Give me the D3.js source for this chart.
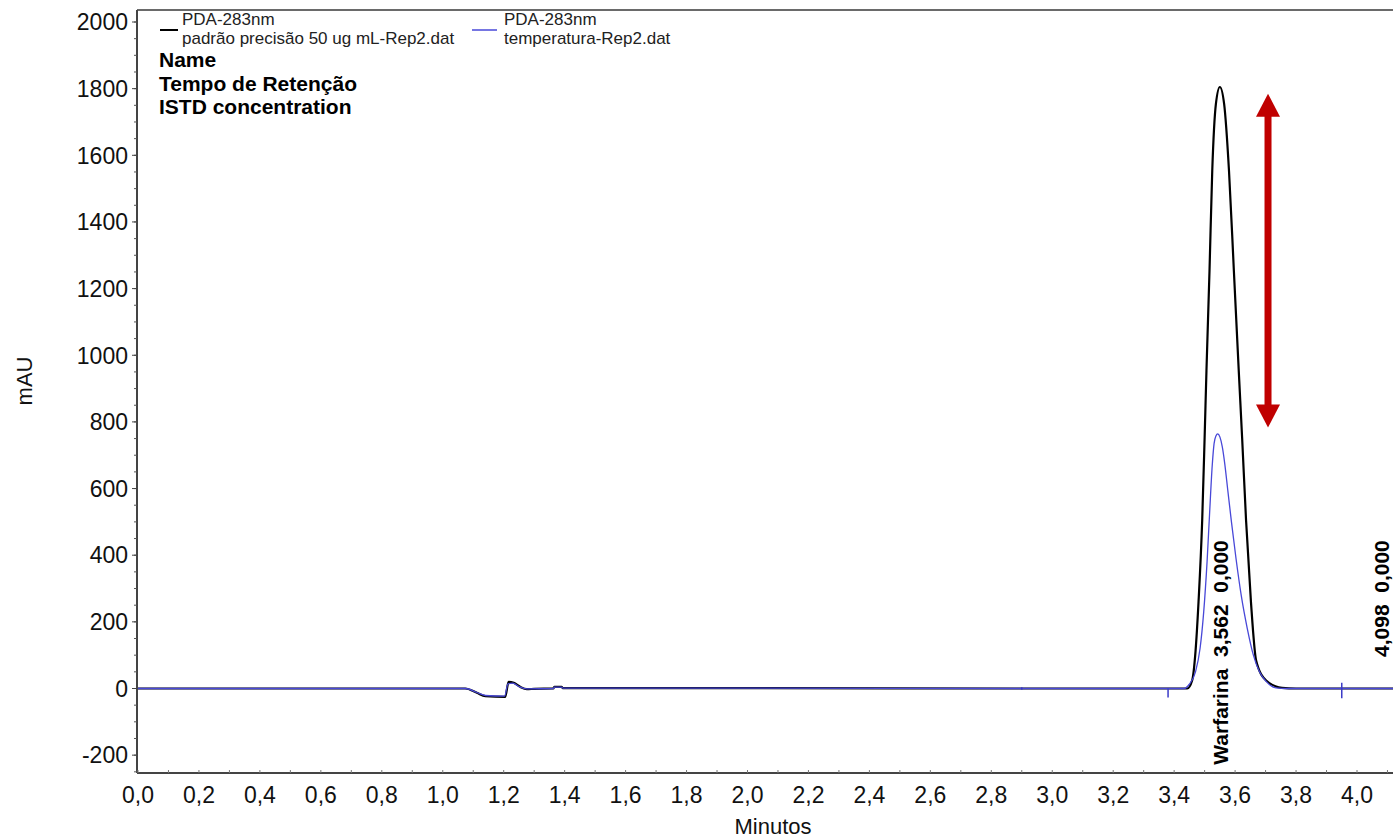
<!DOCTYPE html>
<html>
<head>
<meta charset="utf-8">
<script src="https://cdn.jsdelivr.net/npm/d3@7"></script>
<style>
  body { margin: 0; background: #fff; }
  svg text { font-family: "Liberation Sans", Arial, sans-serif; }
</style>
</head>
<body>
<div class="container"></div>
<script>
// chromatogram traces, [minutes, mAU]
const blackTrace = [
  [0, 0], [1.074, 0], [1.112, -13], [1.14, -23], [1.205, -25], [1.216, 20], [1.233, 17],
  [1.254, 5], [1.276, -2], [1.30, -1], [1.363, 0], [1.366, 5], [1.39, 5], [1.394, 1],
  [2.0, 1], [2.9, 0], [3.40, 0], [3.443, 0], [3.459, 24], [3.470, 110], [3.480, 260],
  [3.492, 504], [3.500, 753], [3.506, 953], [3.516, 1253], [3.525, 1553], [3.537, 1754],
  [3.550, 1805], [3.564, 1754], [3.580, 1553], [3.596, 1253], [3.612, 953], [3.623, 753],
  [3.636, 504], [3.652, 260], [3.669, 84], [3.702, 24], [3.754, 2], [3.80, 0], [4.3, 0]
];
const blueTrace = [
  [0, 0], [1.074, 0], [1.112, -12], [1.14, -21], [1.203, -23], [1.214, 14], [1.23, 16],
  [1.25, 6], [1.276, -1], [1.363, 0], [1.366, 4], [1.39, 4], [1.394, 1], [2.0, 1],
  [2.9, 0], [3.40, 0], [3.433, 0], [3.449, 12], [3.470, 50], [3.485, 120], [3.497, 230],
  [3.508, 380], [3.516, 520], [3.525, 670], [3.531, 735], [3.537, 758], [3.543, 764],
  [3.550, 755], [3.558, 725], [3.566, 675], [3.576, 595], [3.588, 500], [3.603, 390],
  [3.620, 280], [3.640, 180], [3.660, 100], [3.680, 50], [3.701, 22], [3.734, 2], [3.77, 0], [4.3, 0]
];
// integration markers [minutes, top mAU, bottom mAU]
const markers = [[2.90, 4, -4], [3.38, 0, -27], [3.95, 17, -29]];

// peak labels
const peakLabels = [
  { t: 3.562, text: "Warfarina  3,562  0,000" },
  { t: 4.098, text: "4,098  0,000" }
];

const xTicks = [0, 0.2, 0.4, 0.6, 0.8, 1.0, 1.2, 1.4, 1.6, 1.8, 2.0, 2.2, 2.4, 2.6, 2.8, 3.0, 3.2, 3.4, 3.6, 3.8, 4.0];
const yTicks = [-200, 0, 200, 400, 600, 800, 1000, 1200, 1400, 1600, 1800, 2000];

const legendItems = [
  { name: "PDA-283nm", file: "padrão precisão 50 ug mL-Rep2.dat", color: "#000" },
  { name: "PDA-283nm", file: "temperatura-Rep2.dat", color: "#4848d8" }
];
const infoLines = ["Name", "Tempo de Retenção", "ISTD concentration"];

// red arrow showing the height difference (mAU)
const arrowT = 3.708, arrowFrom = 1785, arrowTo = 783;

const width = 1393, height = 839;
const plotLeft = 137, plotTop = 10, plotRight = 1400, plotBottom = 773;

const x = d3.scaleLinear().domain([0, 4]).range([138, 1357]);
const y = d3.scaleLinear().domain([0, 2000]).range([688.5, 22]);

const svg = d3.select('.container').append('svg')
  .attr('width', width).attr('height', height);

svg.append('clipPath').attr('id', 'plot')
  .append('rect').attr('x', plotLeft).attr('y', plotTop)
  .attr('width', plotRight - plotLeft).attr('height', plotBottom - plotTop);

// frame
svg.append('line').attr('x1', plotLeft).attr('x2', width).attr('y1', plotTop).attr('y2', plotTop)
  .attr('stroke', '#6a6a6a').attr('stroke-width', 2);

// y axis
const yAxis = svg.append('g');
yAxis.append('line').attr('x1', plotLeft).attr('x2', plotLeft).attr('y1', plotTop).attr('y2', plotBottom)
  .attr('stroke', '#444').attr('stroke-width', 2);
yAxis.selectAll('.minor').data(d3.range(-250, 2036, 50)).enter().append('line')
  .attr('x1', plotLeft - 3).attr('x2', plotLeft).attr('y1', d => y(d)).attr('y2', d => y(d))
  .attr('stroke', '#555');
yAxis.selectAll('.major').data(yTicks).enter().append('line')
  .attr('x1', plotLeft - 5).attr('x2', plotLeft).attr('y1', d => y(d)).attr('y2', d => y(d))
  .attr('stroke', '#444');
yAxis.selectAll('text').data(yTicks).enter().append('text')
  .attr('x', 128).attr('y', d => y(d)).attr('dy', '0.36em')
  .attr('text-anchor', 'end').attr('font-size', '23px').attr('fill', '#111')
  .text(d => d);

// x axis
const xAxis = svg.append('g');
xAxis.append('line').attr('x1', plotLeft).attr('x2', width).attr('y1', plotBottom).attr('y2', plotBottom)
  .attr('stroke', '#444').attr('stroke-width', 2);
xAxis.selectAll('.minor').data(d3.range(0, 4.15, 0.1)).enter().append('line')
  .attr('x1', d => x(d)).attr('x2', d => x(d)).attr('y1', plotBottom - 3).attr('y2', plotBottom)
  .attr('stroke', '#777');
xAxis.selectAll('text').data(xTicks).enter().append('text')
  .attr('x', d => x(d)).attr('y', 803)
  .attr('text-anchor', 'middle').attr('font-size', '23px').attr('fill', '#111')
  .text(d => d3.format('.1f')(d).replace('.', ','));

svg.append('text').attr('x', 773).attr('y', 834).attr('text-anchor', 'middle')
  .attr('font-size', '22px').attr('fill', '#111').text('Minutos');
svg.append('text').attr('transform', 'translate(32,381) rotate(-90)')
  .attr('text-anchor', 'middle').attr('font-size', '22px').attr('fill', '#111').text('mAU');

// traces
const plot = svg.append('g').attr('clip-path', 'url(#plot)');
const line = d3.line().x(d => x(d[0])).y(d => y(d[1])).curve(d3.curveMonotoneX);

plot.append('path').datum(blackTrace).attr('d', line)
  .attr('fill', 'none').attr('stroke', '#000').attr('stroke-width', 2.2);
plot.append('path').datum(blueTrace).attr('d', line)
  .attr('fill', 'none').attr('stroke', '#4848d8').attr('stroke-width', 1.3);

plot.selectAll('.marker').data(markers).enter().append('line')
  .attr('x1', d => x(d[0])).attr('x2', d => x(d[0]))
  .attr('y1', d => y(d[1])).attr('y2', d => y(d[2]))
  .attr('stroke', '#3a3ac8').attr('stroke-width', 1.5);

// peak labels
svg.selectAll('.peak').data(peakLabels).enter().append('text')
  .attr('transform', d => `translate(${Math.min(x(d.t) + 4, 1389)},${y(445)}) rotate(-90)`)
  .attr('text-anchor', 'end').attr('font-size', '21px').attr('font-weight', 'bold')
  .attr('fill', '#000').style('white-space', 'pre')
  .text(d => d.text);

// legend
const legend = svg.append('g');
const legendX = [160, 472], legendLen = [18, 25], textX = [182, 504];
legendItems.forEach((item, i) => {
  legend.append('line').attr('x1', legendX[i]).attr('x2', legendX[i] + legendLen[i])
    .attr('y1', 30).attr('y2', 30).attr('stroke', item.color).attr('stroke-width', i ? 1.5 : 2);
  legend.append('text').attr('x', textX[i]).attr('y', 25).attr('font-size', '17px')
    .attr('fill', '#222').text(item.name);
  legend.append('text').attr('x', textX[i]).attr('y', 44).attr('font-size', '17px')
    .attr('fill', '#222').text(item.file);
});
infoLines.forEach((t, i) => {
  legend.append('text').attr('x', 159).attr('y', 67 + i * 23.5)
    .attr('font-size', '21px').attr('font-weight', 'bold').attr('fill', '#000').text(t);
});

// red arrow
const ax = x(arrowT), ay1 = y(arrowFrom), ay2 = y(arrowTo);
const arrow = svg.append('g').attr('fill', '#c00000');
arrow.append('rect').attr('x', ax - 3.5).attr('y', ay1 + 20).attr('width', 7).attr('height', ay2 - ay1 - 40);
arrow.append('path').attr('d', `M${ax},${ay1} L${ax + 12},${ay1 + 23} L${ax - 12},${ay1 + 23} Z`);
arrow.append('path').attr('d', `M${ax},${ay2} L${ax + 12},${ay2 - 23} L${ax - 12},${ay2 - 23} Z`);
</script>
</body>
</html>
